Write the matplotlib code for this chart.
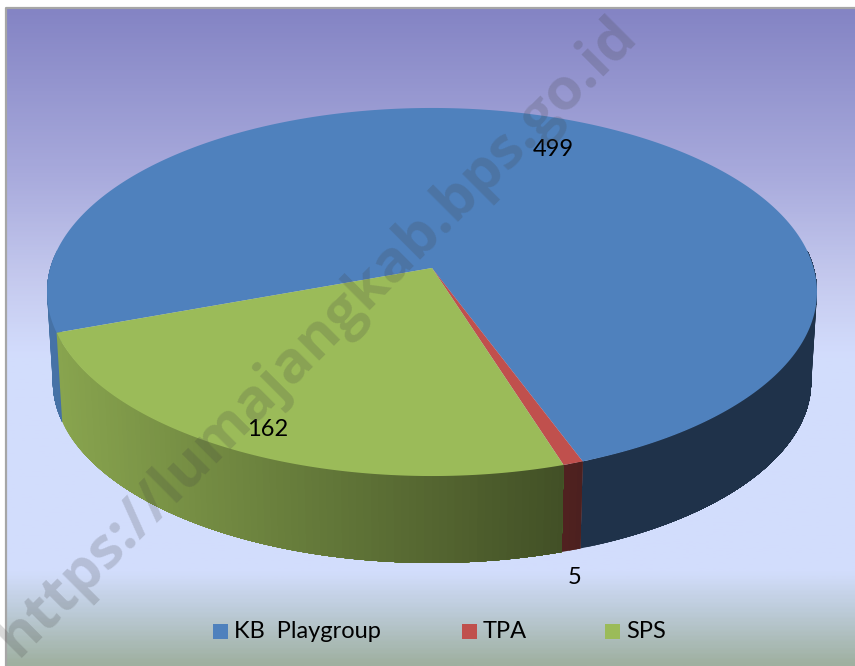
import numpy as np
import matplotlib
matplotlib.use('Agg')
import matplotlib.pyplot as plt
from matplotlib.colors import LinearSegmentedColormap, to_rgb
from matplotlib.patches import Polygon, Rectangle

categories = ['KB  Playgroup', 'TPA', 'SPS']
values = [499, 5, 162]
colors = ['#4F81BD', '#C0504D', '#9BBB59']
value_labels = ['499', '5', '162']

# gradient of the plot background (fraction of height, colour)
bg_stops = [(0.0, '#8484c4'), (0.25, '#a8aadc'), (0.42, '#c6cbef'), (0.53, '#d3ddfd'),
            (0.86, '#d2ddfc'), (0.92, '#bccbd8'), (1.0, '#9fb0a0')]

# fake 3d pie geometry, pixels
CX, CY = 432, 268
A, B, K = 180.9, 381.7, -0.1304
START = 290.0
DEPTH = 90
SHRINK = 0.985


def rim(theta):
    t = np.radians(theta)
    u, v = np.sin(t), np.cos(t)
    w = 1 + K * v
    return CX + B * u / w, CY + A * v / w


def low_rim(theta):
    x, y = rim(theta)
    return CX + SHRINK * (x - CX), CY + DEPTH + SHRINK * (y - CY)


def shade(color, x):
    f = np.interp(x, [55, 560, 585], [0.88, 0.43, 0.39])
    return tuple(c * f for c in to_rgb(color))


def draw_wall(th, col):
    # each strip runs to the end of the arc, the next one paints over it, so no seams
    for i in range(len(th) - 1):
        arc = th[i:]
        xs, ys = rim(arc)
        lx, ly = low_rim(arc[::-1])
        pts = np.column_stack([np.r_[xs, lx], np.r_[ys, ly]])
        c = shade(col, (xs[0] + xs[1]) / 2)
        ax.add_patch(Polygon(pts, closed=True, facecolor=c, edgecolor='none', zorder=2))


fig = plt.figure(figsize=(8.55, 6.66), dpi=100)
ax = fig.add_axes([0, 0, 1, 1])

cmap = LinearSegmentedColormap.from_list('bg', bg_stops)
ax.imshow(np.linspace(0, 1, 400).reshape(-1, 1), cmap=cmap, aspect='auto',
          extent=(6, 855, 666, 8), zorder=0)
ax.plot([6, 6, 855], [666, 8, 8], color='#a6a6a6', lw=1.6, zorder=1)
ax.set_xlim(0, 855)
ax.set_ylim(666, 0)
ax.axis('off')

spans = np.array(values) / sum(values) * 360
ends = START - np.cumsum(spans)
starts = ends + spans

# side wall first, only the arcs facing us
for s, e, col in zip(starts, ends, colors):
    th = np.arange(e, s + 1.0, 1.0)
    th[-1] = s
    front = np.cos(np.radians(th)) > -0.1
    cuts = np.where(np.diff(front.astype(int)) != 0)[0] + 1
    for run in np.split(th, cuts):
        if len(run) > 1 and np.cos(np.radians(run[len(run) // 2])) > -0.1:
            draw_wall(run, col)

# top face
for s, e, col in zip(starts, ends, colors):
    th = np.linspace(s, e, 300)
    xs, ys = rim(th)
    pts = np.column_stack([np.r_[CX, xs], np.r_[CY, ys]])
    ax.add_patch(Polygon(pts, closed=True, facecolor=col, edgecolor='none', zorder=3))

# value labels
label_xy = [(553, 150), (575, 577), (268, 430)]
for txt, (x, y) in zip(value_labels, label_xy):
    ax.text(x, y, txt, fontsize=17, family='Lato', ha='center', va='center', color='black', zorder=5)

# legend
legend_x = [220, 469, 612]
for name, col, x in zip(categories, colors, legend_x):
    ax.add_patch(Rectangle((x - 7.5, 623.5), 15, 15, facecolor=col, edgecolor='none', zorder=5))
    ax.text(x + 14, 632, name, fontsize=17, family='Lato', ha='left', va='center', color='black', zorder=5)

# watermark
ax.text(317, 337, 'https://lumajangkab.bps.go.id', fontsize=42, family='Open Sans', weight='bold',
        rotation=45, rotation_mode='anchor', ha='center', va='center', color='#404040', alpha=0.2, zorder=6,
        clip_on=True)

fig.savefig('out.png', dpi=100)
plt.close()
